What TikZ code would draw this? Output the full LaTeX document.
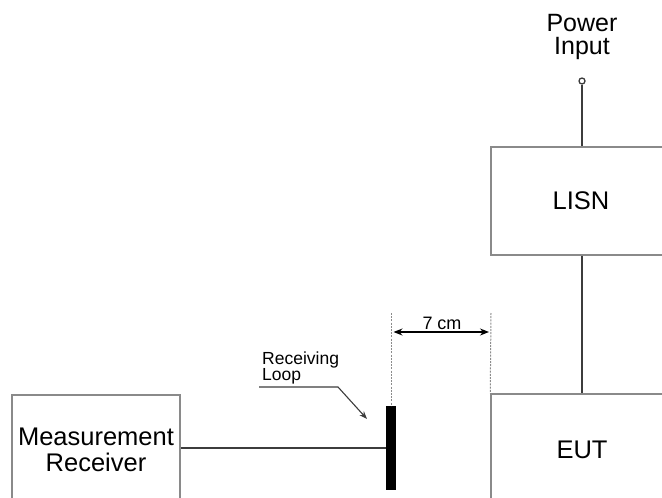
\documentclass[tikz,border=0pt]{standalone}
\usepackage{fontspec}
\setmainfont{Liberation Sans}
\usetikzlibrary{arrows.meta}
\definecolor{boxgray}{HTML}{8A8A8A}
\definecolor{wire}{HTML}{3C3C3C}
\definecolor{dashgray}{HTML}{8C8C8C}
\tikzset{
  blockbox/.style={draw=boxgray, line width=1.5pt, fill=white, inner sep=0pt, align=center,
    font=\fontsize{25.5}{26}\selectfont},
  wireline/.style={draw=wire, line width=2pt},
  guide/.style={draw=dashgray, line width=1pt, dash pattern=on 2pt off 1.2pt},
  dimarrow/.style={draw=black, line width=1.3pt, {Stealth[length=9pt,width=7pt]}-{Stealth[length=9pt,width=7pt]}},
  leader/.style={draw=wire, line width=1.1pt, -{Stealth[length=8pt,width=6pt]}},
  smalltext/.style={inner sep=0pt, font=\fontsize{17.5}{16}\selectfont, align=left},
}
\begin{document}
\begin{tikzpicture}[x=1pt,y=-1pt]
\useasboundingbox (0,0) rectangle (662,498);
\clip (0,0) rectangle (662,498);
% boxes
\node[blockbox, minimum width=180pt, minimum height=108pt] (lisn) at (581,201) {LISN};
\node[blockbox, minimum width=182pt, minimum height=112pt] (eut) at (582,450) {EUT};
\node[blockbox, minimum width=168pt, minimum height=110pt] (meas) at (96,450) {Measurement\\Receiver};
% power input
\node[inner sep=0pt, align=center, font=\fontsize{25}{23.5}\selectfont, anchor=south] (ptext) at (582,60) {Power\\Input};
\node[circle, draw=wire, line width=1.3pt, minimum size=6pt, inner sep=0pt] (pin) at (582,81) {};
\draw[wireline] (pin.south) -- (pin.south |- lisn.north);
\draw[wireline] (lisn.south -| pin) -- (eut.north -| pin);
% receiving loop
\node[fill=black, draw=none, minimum width=10pt, minimum height=84pt, inner sep=0pt] (loop) at (391,448) {};
\draw[wireline] (meas.east |- loop.west) -- (loop.west);
% guides
\coordinate (g1) at (391,313);
\coordinate (g2) at (491,313);
\draw[guide] (g1) -- (loop.north);
\draw[guide] (g2) -- (eut.north west);
\coordinate (a1) at (393.5,332);
\coordinate (a2) at (489,332);
\draw[dimarrow] (a1) -- (a2);
\node[smalltext, font=\fontsize{18}{18}\selectfont, anchor=base] (dim) at (442,329) {7 cm};
% loop label
\node[smalltext, anchor=south west] (llabel) at (262,384) {Receiving\\Loop};
\coordinate (l1) at (259,387);
\coordinate (l2) at (338,387);
\coordinate (l3) at (367,419);
\draw[leader] (l1) -- (l2) -- (l3);
\end{tikzpicture}
\end{document}
